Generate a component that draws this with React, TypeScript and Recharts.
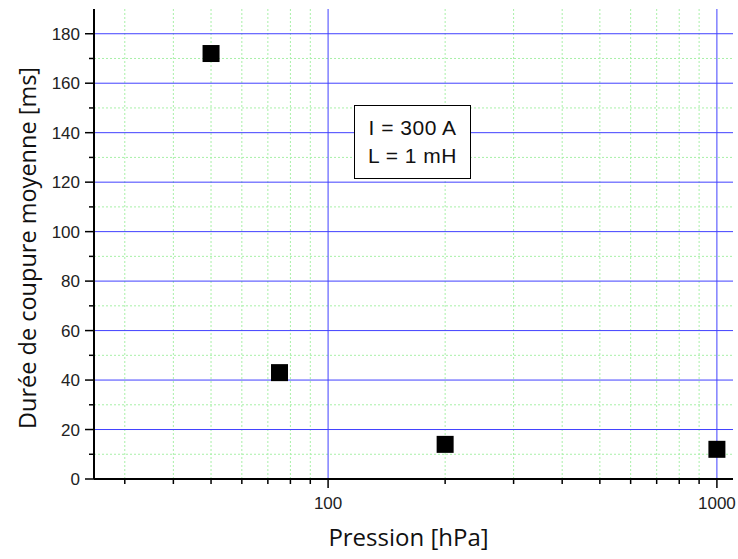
import React from "react";
import {
  ScatterChart,
  Scatter,
  XAxis,
  YAxis,
  ReferenceLine,
} from "recharts";

// measured points: pressure [hPa] vs mean break time [ms]
const pressure = [50, 75, 200, 1000];
const duration = [172, 43, 14, 12];

const xMajorTicks = [100, 1000];
const xMinorTicks = [30, 40, 50, 60, 70, 80, 90, 200, 300, 400, 500, 600, 700, 800, 900];
const yMajorTicks = [0, 20, 40, 60, 80, 100, 120, 140, 160, 180];
const yMinorTicks = [10, 30, 50, 70, 90, 110, 130, 150, 170];

const annotation = ["I = 300 A", "L = 1 mH"];

const points = pressure.map((p, i) => ({ p, d: duration[i] }));

const tickFont = "'Liberation Sans', Arial, sans-serif";
const titleFont = "'Open Sans', 'Noto Sans', sans-serif";
const MAJOR_BLUE = "#4040ff";
const MINOR_GREEN = "#a8f0a8";

const XTick = (props: any) => {
  const { x, y, payload } = props;
  const major = xMajorTicks.includes(payload.value);
  return (
    <g>
      <line x1={x} x2={x} y1={y} y2={y + (major ? 9 : 5)} stroke="#000" strokeWidth={1.5} />
      {major && (
        <text x={x} y={y + 30} textAnchor="middle" fontSize={17} fontFamily={tickFont} fill="#222">
          {payload.value}
        </text>
      )}
    </g>
  );
};

const YTick = (props: any) => {
  const { x, y, payload } = props;
  const major = yMajorTicks.includes(payload.value);
  return (
    <g>
      <line x1={x} x2={x - (major ? 9 : 5)} y1={y} y2={y} stroke="#000" strokeWidth={1.5} />
      {major && (
        <text x={x - 14} y={y + 6} textAnchor="end" fontSize={17} fontFamily={tickFont} fill="#222">
          {payload.value}
        </text>
      )}
    </g>
  );
};

const XTitle = (props: any) => {
  const { viewBox } = props;
  const cx = viewBox.x + viewBox.width / 2 - 5;
  return (
    <text x={cx} y={546} textAnchor="middle" fontSize={24} fontFamily={titleFont} fill="#111">
      Pression [hPa]
    </text>
  );
};

const YTitle = (props: any) => {
  const { viewBox } = props;
  const cy = viewBox.y + viewBox.height / 2 + 4;
  const cx = 36;
  return (
    <text
      x={cx}
      y={cy}
      transform={`rotate(-90 ${cx} ${cy})`}
      textAnchor="middle"
      fontSize={23.5}
      fontFamily={titleFont}
      fill="#111"
    >
      Durée de coupure moyenne [ms]
    </text>
  );
};

const SquareMarker = (props: any) => {
  const { cx, cy } = props;
  const s = 17;
  return <rect x={cx - s / 2} y={cy - s / 2} width={s} height={s} fill="#000" />;
};

export default function App() {
  return (
    <div style={{ position: "absolute", left: 0, top: 0, width: 738, height: 559, background: "#fff" }}>
      <ScatterChart width={738} height={559} margin={{ top: 9, right: 5, left: 0, bottom: 0 }}>
        {xMinorTicks.map((v) => (
          <ReferenceLine key={"xm" + v} x={v} stroke={MINOR_GREEN} strokeDasharray="2 2" strokeWidth={1} />
        ))}
        {yMinorTicks.map((v) => (
          <ReferenceLine key={"ym" + v} y={v} stroke={MINOR_GREEN} strokeDasharray="2 2" strokeWidth={1} />
        ))}
        {yMajorTicks
          .filter((v) => v > 0)
          .map((v) => (
            <ReferenceLine key={"yM" + v} y={v} stroke={MAJOR_BLUE} strokeWidth={1} />
          ))}
        {xMajorTicks.map((v) => (
          <ReferenceLine key={"xM" + v} x={v} stroke={MAJOR_BLUE} strokeWidth={1} />
        ))}
        <XAxis
          type="number"
          dataKey="p"
          scale="log"
          domain={[25, 1100]}
          allowDataOverflow
          ticks={[...xMinorTicks, ...xMajorTicks].sort((a, b) => a - b)}
          interval={0}
          height={80}
          tickSize={0}
          tickMargin={0}
          tickLine={false}
          tick={<XTick />}
          axisLine={{ stroke: "#000", strokeWidth: 2 }}
          label={<XTitle />}
        />
        <YAxis
          type="number"
          dataKey="d"
          domain={[0, 190]}
          allowDataOverflow
          ticks={[...yMajorTicks, ...yMinorTicks].sort((a, b) => a - b)}
          interval={0}
          width={94}
          tickSize={0}
          tickMargin={0}
          tickLine={false}
          tick={<YTick />}
          axisLine={{ stroke: "#000", strokeWidth: 2 }}
          label={<YTitle />}
        />
        <Scatter data={points} shape={<SquareMarker />} isAnimationActive={false} />
      </ScatterChart>
      <div
        style={{
          position: "absolute",
          left: 354,
          top: 105,
          width: 115,
          height: 72,
          border: "1.5px solid #000",
          background: "#fff",
          fontFamily: tickFont,
          fontSize: 21,
          color: "#111",
          display: "flex",
          flexDirection: "column",
          justifyContent: "center",
          alignItems: "center",
          lineHeight: "28px",
          letterSpacing: 0.5,
        }}
      >
        {annotation.map((t) => (
          <div key={t}>{t}</div>
        ))}
      </div>
    </div>
  );
}
